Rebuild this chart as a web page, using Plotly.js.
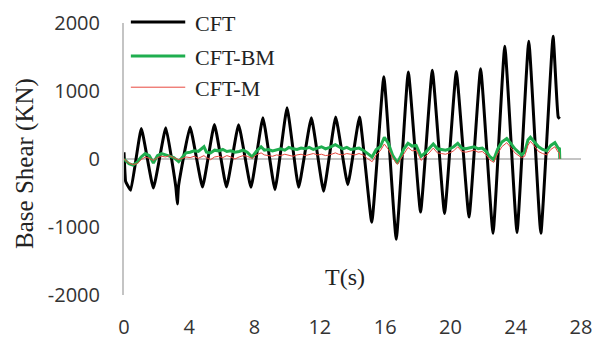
<!DOCTYPE html>
<html>
<head>
<meta charset="utf-8">
<script src="https://cdn.plot.ly/plotly-3.0.1.min.js"></script>
<style>
  html, body { margin: 0; padding: 0; background: #fff; }
  #chart { width: 594px; height: 340px; }
</style>
</head>
<body>
<div id="chart"></div>
<script>
// Base shear time histories (KN) of the three frame models.

// CFT: turning points of the oscillating response
const cftTime = [0, 0.1, 0.2, 0.41, 1.06, 1.80, 2.56, 3.18, 3.27, 3.34, 4.05, 4.81, 5.54, 6.28, 7.02, 7.78,
  8.51, 9.25, 9.99, 10.70, 11.48, 12.23, 12.97, 13.71, 14.43, 15.18, 15.92, 16.68, 17.42, 18.17, 18.89,
  19.64, 20.36, 21.14, 21.85, 22.61, 23.33, 24.08, 24.80, 25.54, 26.29, 26.6, 26.7];
const cftShear = [100, -330, -380, -460, 447, -427, 461, -420, -660, -400, 470, -412, 509, -412, 505, -417,
  607, -451, 752, -417, 607, -476, 616, -378, 616, -930, 1210, -1179, 1281, -781, 1305,
  -800, 1285, -854, 1329, -1092, 1659, -1082, 1732, -1092, 1805, 620, 592];

// Sample times shared by CFT-BM and CFT-M
const dampedTime = [0, 0.3, 0.55, 0.8, 1.05, 1.3, 1.55, 1.8, 2.05, 2.3, 2.55, 2.8, 3.05, 3.35, 3.6, 3.8,
  4.05, 4.3, 4.55, 4.9, 5.05, 5.3, 5.55, 5.8, 6.05, 6.3, 6.55, 6.8, 7.05, 7.3, 7.55, 7.85,
  8.1, 8.4, 8.6, 8.85, 9.1, 9.35, 9.6, 9.85, 10.1, 10.35, 10.6, 10.85, 11.1, 11.35, 11.6, 11.85,
  12.1, 12.35, 12.6, 12.95, 13.15, 13.4, 13.65, 13.9, 14.15, 14.4, 14.65, 14.9, 15.2, 15.45, 15.7, 15.95,
  16.2, 16.45, 16.75, 16.95, 17.15, 17.4, 17.65, 17.9, 18.2, 18.45, 18.7, 18.95, 19.2, 19.45, 19.7, 19.95,
  20.2, 20.45, 20.7, 20.95, 21.2, 21.45, 21.7, 21.95, 22.2, 22.4, 22.65, 22.9, 23.15, 23.45, 23.7, 23.95,
  24.35, 24.55, 24.75, 24.9, 25.15, 25.4, 25.65, 25.9, 26.15, 26.4, 26.6, 26.68, 26.7];

const cftBmShear = [0, -70, -90, -50, 30, 80, 50, -60, 50, 80, 60, 40, 20, -40, 40, 90,
  100, 120, 110, 180, 100, 90, 130, 120, 140, 110, 120, 100, 110, 130, 100, 30,
  110, 180, 130, 140, 120, 130, 150, 130, 170, 150, 140, 160, 150, 170, 140, 160,
  180, 150, 170, 210, 180, 150, 170, 140, 150, 160, 130, 90, 30, 140, 180, 320,
  230, 60, -60, 40, 150, 230, 190, 200, 40, 90, 150, 220, 150, 140, 130, 150,
  180, 230, 160, 150, 170, 180, 150, 160, 110, 40, -10, 150, 250, 300, 230, 150,
  60, 100, 280, 320, 250, 180, 140, 120, 200, 240, 160, 150, 0];

const cftMShear = [0, -60, -80, -70, -10, 30, 10, -20, 20, 40, 30, 50, 20, -10, 10, 30,
  20, 40, 10, 50, 20, -10, 30, 40, 20, 50, 30, 0, 30, 50, 40, 10,
  60, 90, 60, 50, 40, 60, 50, 70, 60, 40, 60, 70, 50, 60, 80, 60,
  70, 50, 60, 90, 70, 60, 80, 70, 60, 80, 60, 10, -40, 60, 120, 220,
  140, 20, -80, 0, 80, 170, 120, 130, -20, 30, 90, 160, 90, 80, 70, 90,
  120, 180, 110, 100, 120, 130, 100, 110, 60, -10, -50, 80, 180, 240, 170, 90,
  20, 40, 200, 260, 190, 110, 80, 60, 140, 180, 100, 90, 0];

const xTicks = [0, 4, 8, 12, 16, 20, 24, 28];
const yTicks = [-2000, -1000, 0, 1000, 2000];

const seriesNames = ['CFT', 'CFT-BM', 'CFT-M'];
const seriesColors = ['#000000', '#1fae4f', '#e8483f'];
const seriesWidths = [3, 3, 1];

const traces = [
  { x: cftTime, y: cftShear, mode: 'lines', name: seriesNames[0],
    line: { color: seriesColors[0], width: seriesWidths[0], shape: 'spline', smoothing: 0.35 } },
  { x: dampedTime, y: cftBmShear, mode: 'lines', name: seriesNames[1],
    line: { color: seriesColors[1], width: seriesWidths[1] } },
  { x: dampedTime, y: cftMShear, mode: 'lines', name: seriesNames[2],
    line: { color: seriesColors[2], width: seriesWidths[2] } }
];

// Hand-built key: line swatches plus labels in the upper left of the plot
const keyRows = [1.004, 0.879, 0.764];
const shapes = seriesNames.map((n, i) => ({
  type: 'line', xref: 'paper', yref: 'paper',
  x0: 0.015, x1: 0.134, y0: keyRows[i], y1: keyRows[i],
  line: { color: seriesColors[i], width: seriesWidths[i] }
}));
const serif = 'Liberation Serif, Times New Roman, serif';
const annotations = seriesNames.map((n, i) => ({
  text: n, xref: 'paper', yref: 'paper', x: 0.151, y: keyRows[i] - 0.006,
  xanchor: 'left', yanchor: 'middle', showarrow: false,
  font: { family: serif, size: 22, color: '#222' }
}));
annotations.push({
  text: 'T(s)', xref: 'paper', yref: 'paper', x: 0.484, y: 0.066,
  xanchor: 'center', yanchor: 'middle', showarrow: false,
  font: { family: serif, size: 24, color: '#222' }
});
annotations.push({
  text: 'Base Shear (KN)', xref: 'paper', yref: 'paper', x: -0.217, y: 0.485,
  xanchor: 'center', yanchor: 'middle', textangle: -90, showarrow: false,
  font: { family: serif, size: 25, color: '#222' }
});

const tickFont = { family: 'Open Sans, sans-serif', size: 20, color: '#333' };

const layout = {
  width: 594, height: 340,
  margin: { l: 124, r: 13, t: 23, b: 45 },
  paper_bgcolor: '#fff', plot_bgcolor: '#fff',
  showlegend: false,
  xaxis: {
    range: [0, 28], tickvals: xTicks, ticktext: xTicks.map(String),
    showgrid: false, zeroline: false, showline: false, ticks: '',
    tickfont: tickFont, ticklabelstandoff: 18
  },
  yaxis: {
    range: [-2000, 2000], tickvals: yTicks, ticktext: yTicks.map(String),
    showgrid: false, showline: true, linecolor: '#c4c4c4', linewidth: 2,
    zeroline: true, zerolinecolor: '#c4c4c4', zerolinewidth: 2, ticks: '',
    tickfont: tickFont, ticklabelstandoff: 18
  },
  shapes: shapes,
  annotations: annotations
};

Plotly.newPlot('chart', traces, layout, { displayModeBar: false, staticPlot: true });
</script>
</body>
</html>
